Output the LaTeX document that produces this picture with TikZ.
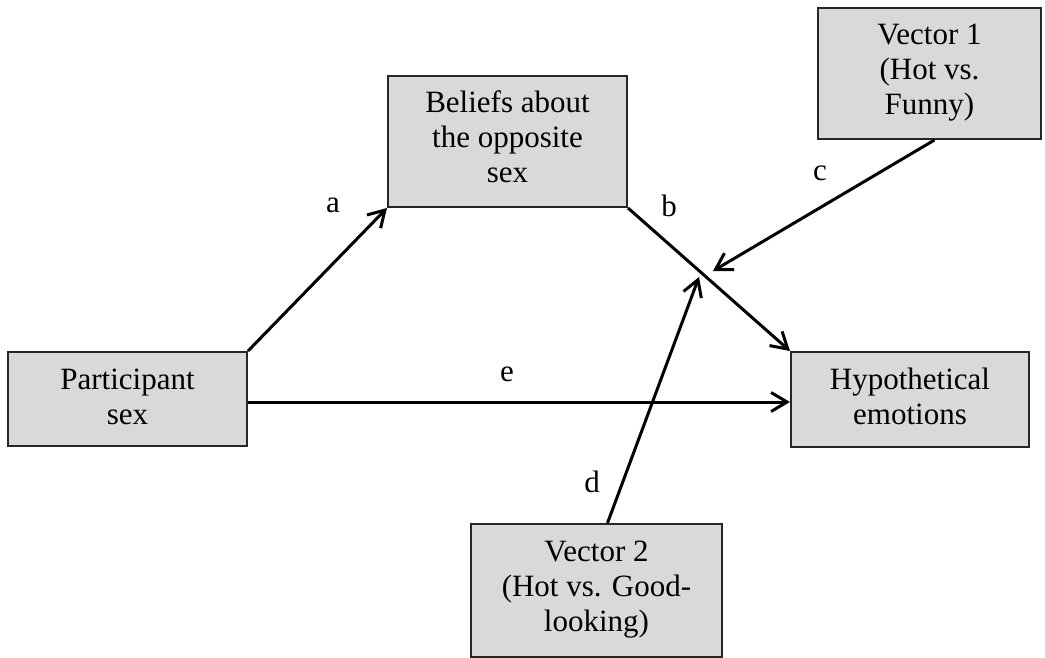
\documentclass[tikz,border=0pt]{standalone}
\usepackage{fontspec}
\setmainfont{Liberation Serif}
\usetikzlibrary{arrows.meta}

\definecolor{boxgray}{RGB}{217,217,217}

\newcommand{\boxlines}[3]{\parbox[c][#2][t]{#1}{\centering\rule{0pt}{18.5pt}#3}}

\tikzset{%
  every factor/.style={
    draw=black!85,
    fill=boxgray,
    line width=1pt,
    inner sep=0pt,
    font=\fontsize{15.5}{17.5}\selectfont
  },
  path label/.style={
    inner sep=0pt,
    font=\fontsize{15.5}{17.5}\selectfont
  },
  path arrow/.style={
    ->,
    line width=1.5pt
  },
}

\begin{document}
\begin{tikzpicture}[x=0.5pt, y=-0.5pt, >={Straight Barb[length=8pt,width=9.5pt]}]
\useasboundingbox (0,0) rectangle (1045,658);

\node [every factor] (participant) at (127.5,399)
  {\boxlines{119.5pt}{47pt}{Participant\\sex}};
\node [every factor] (beliefs) at (507.5,141.5)
  {\boxlines{119.5pt}{65.5pt}{Beliefs about\\the opposite\\sex}};
\node [every factor] (vector-1) at (929.5,73.5)
  {\boxlines{111.5pt}{65.5pt}{Vector 1\\(Hot vs.\\Funny)}};
\node [every factor] (emotions) at (910,399.5)
  {\boxlines{119pt}{47.5pt}{Hypothetical\\emotions}};
\node [every factor] (vector-2) at (596.5,590.5)
  {\boxlines{125.5pt}{66.5pt}{Vector 2\\(Hot vs. Good-\\looking)}};

\coordinate (c-end) at (713,271);
\coordinate (d-end) at (699,277);

\draw [path arrow] (participant.north east) -- (beliefs.south west);
\draw [path arrow] (beliefs.south east) -- (emotions.north west);
\draw [path arrow] ([xshift=2.5pt]vector-1.south) -- (c-end);
\draw [path arrow] ([xshift=5.5pt]vector-2.north) -- (d-end);
\draw [path arrow] (participant.east |- 0,402) -- (emotions.west |- 0,402);

\foreach \l/\x/\y in {a/333/205, b/669/206, c/820/173, d/592/482, e/507/374}
  \node [path label] (label-\l) at (\x,\y) {\l};

\end{tikzpicture}
\end{document}
